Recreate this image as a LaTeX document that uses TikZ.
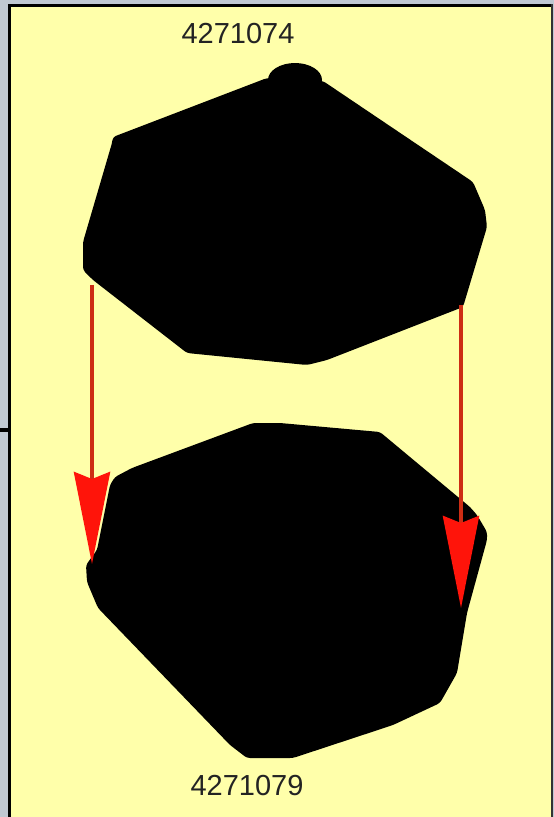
\documentclass[tikz,border=0pt]{standalone}
\usepackage{fontspec}
\setmainfont{Liberation Sans}
\usetikzlibrary{arrows.meta}
\definecolor{paper}{RGB}{255,255,170}
\definecolor{frame}{RGB}{192,200,210}
\definecolor{linered}{RGB}{205,45,20}
\definecolor{headred}{RGB}{255,20,10}
\definecolor{labtext}{RGB}{35,35,35}
\tikzset{
  blob/.style={fill=black, draw=none, rounded corners=3pt},
  movearrow/.style={draw=linered, line width=4pt,
    -{Stealth[length=92pt, width=36pt, inset=7pt, color=headred]}},
  lab/.style={text=labtext, font=\fontsize{29}{29}\selectfont, inner sep=0pt}
}
\begin{document}
\begin{tikzpicture}[x=1pt, y=-1pt]
\useasboundingbox (0,0) rectangle (554,817);
% page background and frame
\fill[frame] (0,0) rectangle (554,817);
\fill[paper] (10,6) rectangle (552,817);
\fill[black] (8,4) rectangle (11,817);
\fill[black] (8,4) rectangle (552,7);
\fill[black!80] (551,4) rectangle (553,817);
\fill[black] (0,428) rectangle (9,432);
% upper particle
\fill[blob] (113,137) -- (267,78) -- (323,81) -- (473,182) -- (485,210) -- (487,227)
  -- (463,307) -- (327,360) -- (307,365) -- (187,353) -- (93,280) -- (83,270)
  -- (83,242) -- (112,143) -- cycle;
\fill[black] (295,80) ellipse [x radius=27, y radius=17];
% lower particle
\fill[blob] (115,477) -- (132,468) -- (253,423) -- (280,423) -- (380,432) -- (470,507)
  -- (477,515) -- (487,532) -- (487,540) -- (467,613) -- (457,673) -- (440,703)
  -- (393,725) -- (293,758) -- (247,758) -- (230,745) -- (98,608) -- (87,582)
  -- (86,565) -- (97,550) -- (110,485) -- cycle;
% labels
\node[lab] (top) at (238,34) {4271074};
\node[lab] (bot) at (247,786) {4271079};
% arrows
\coordinate (ls) at (92,285);
\coordinate (le) at (92,564);
\coordinate (rs) at (461,305);
\coordinate (re) at (461,608);
\draw[movearrow] (ls) -- (le);
\draw[movearrow] (rs) -- (re);
\end{tikzpicture}
\end{document}
